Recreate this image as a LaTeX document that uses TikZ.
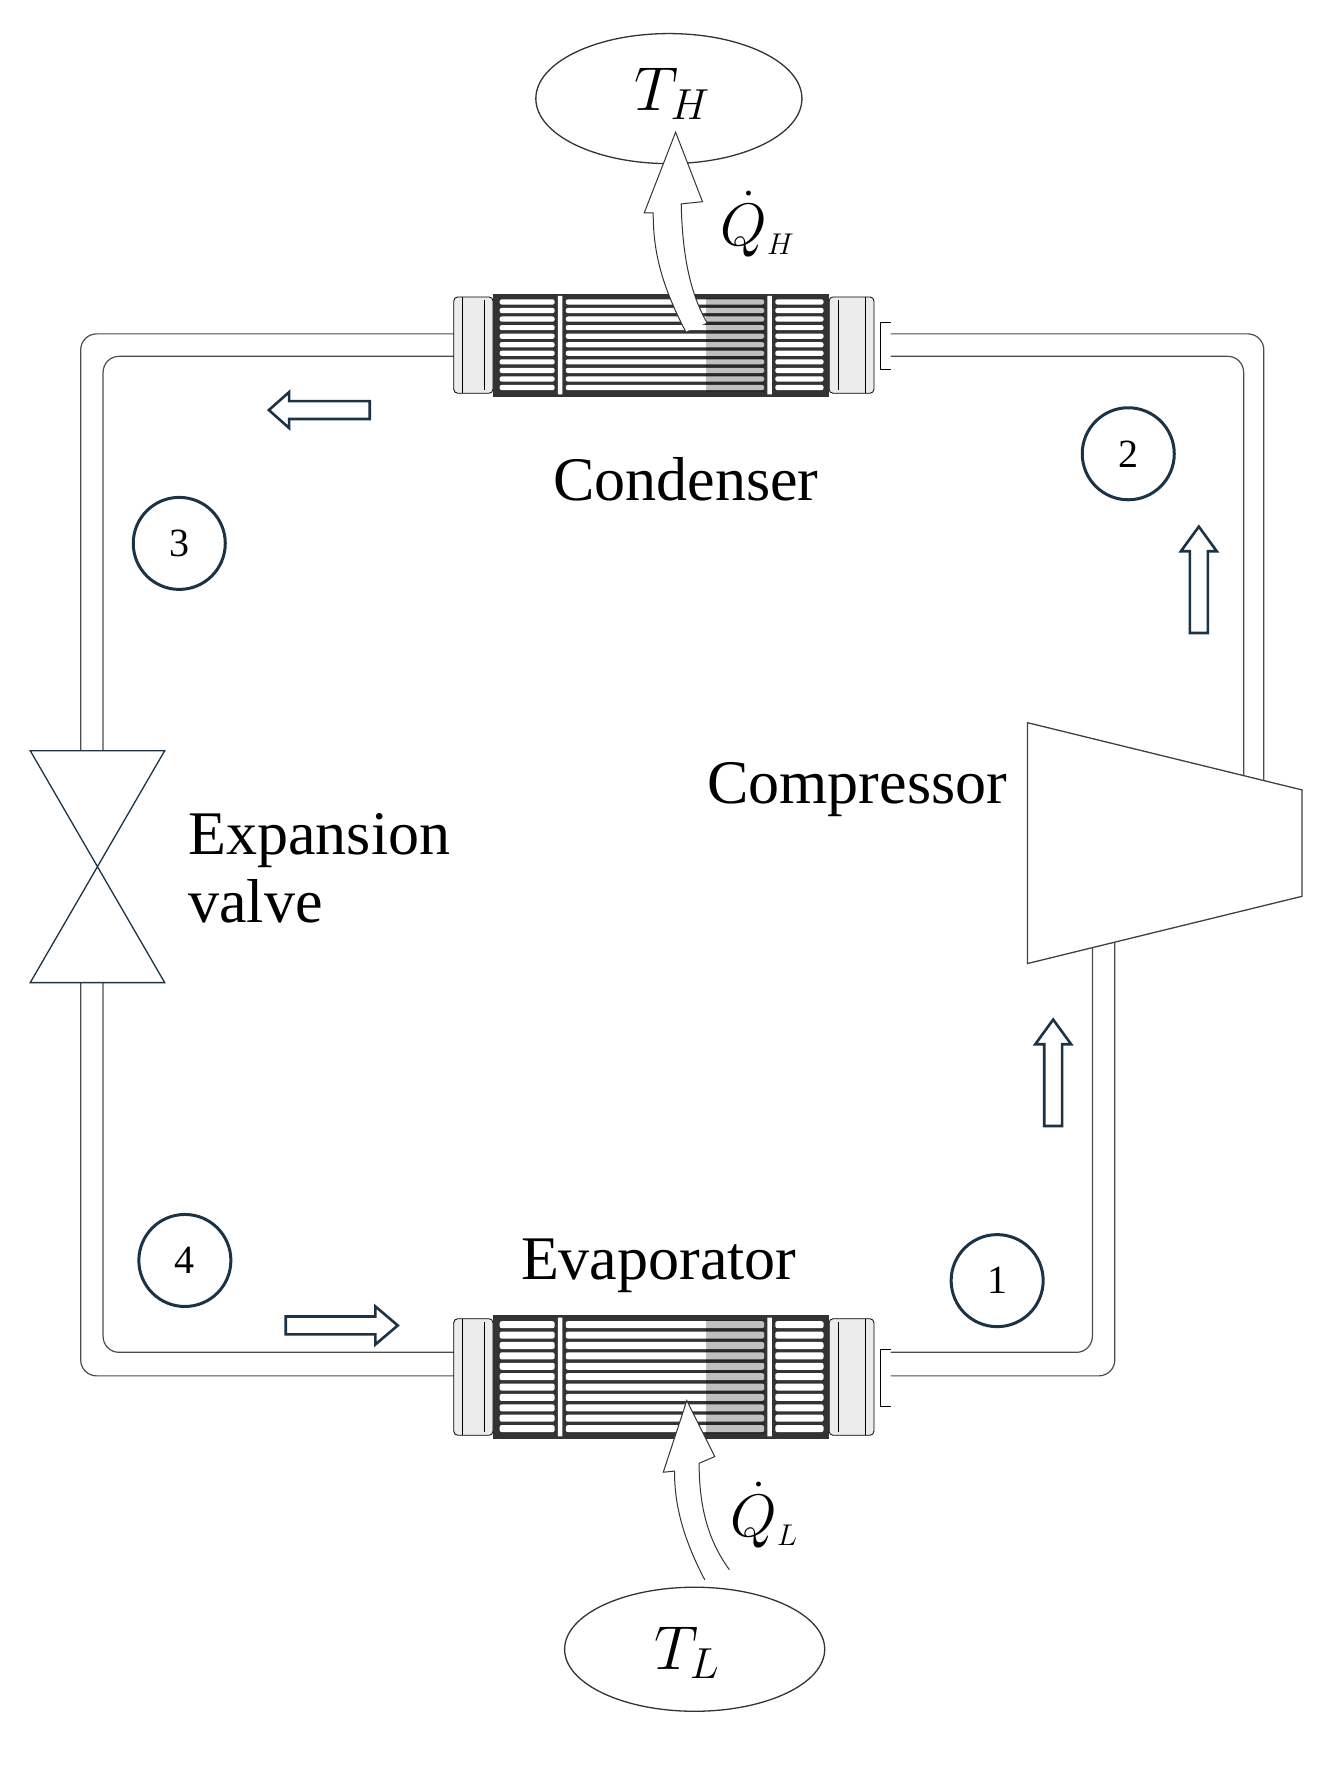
\RequirePackage{fix-cm}
\documentclass[tikz,border=0pt]{standalone}
\usepackage{fontspec}
\setmainfont{Liberation Serif}
\usetikzlibrary{shapes.geometric}
\definecolor{navy}{HTML}{1B3347}
\newcommand{\hxch}[3]{% #1 name, #2 top y, #3 height
  \begin{scope}[shift={(0,#2)}]
    \coordinate (#1-l) at (405,0);
    \coordinate (#1-r) at (795,0);
    \draw[line width=0.8pt,fill=gray!15,rounded corners=4] (405,3) rectangle (440,#3-3);
    \draw[line width=0.6pt] (413,3) -- (413,#3-3) (432,6) -- (432,#3-6);
    \draw[line width=0.8pt,fill=gray!15,rounded corners=4] (740,3) rectangle (780,#3-3);
    \draw[line width=0.6pt] (748,6) -- (748,#3-6) (772,3) -- (772,#3-3);
    \draw[line width=0.8pt] (795,0.28*#3) -- (786,0.28*#3) -- (786,0.74*#3) -- (795,0.74*#3);
    \fill[black!80] (440,0) rectangle (740,#3);
    \foreach \i in {0,...,10}{
      \pgfmathsetmacro{\yt}{4+\i*(#3-8)/11+1.2}
      \pgfmathsetmacro{\yb}{4+(\i+1)*(#3-8)/11-1.8}
      \fill[white,rounded corners=2] (446,\yt) rectangle (495,\yb);
      \fill[white,rounded corners=2] (505,\yt) rectangle (682,\yb);
      \fill[white,rounded corners=2] (692,\yt) rectangle (735,\yb);
    }
    \fill[white] (498,2) rectangle (502,#3-2) (685,2) rectangle (689,#3-2);
    \fill[black,opacity=0.25] (630,4) rectangle (682,#3-4);
  \end{scope}}
\tikzset{
  lbl/.style={font=\fontsize{62}{68}\selectfont,inner sep=0pt},
  pipe/.style={line width=1.2pt,draw=black!70,rounded corners=16},
  num/.style={circle,draw=navy,line width=3pt,minimum size=92,font=\fontsize{40}{42}\selectfont,inner sep=0pt},
  barrow/.style={draw=navy,line width=2.6pt,fill=white,line join=miter},
  harrow/.style={draw=black!80,line width=1pt,fill=white},
  res/.style={ellipse,draw=black!80,line width=1.3pt,inner sep=0pt,font=\fontsize{62}{64}\selectfont}
}
\begin{document}
\begin{tikzpicture}[x=1.12pt,y=-1.12pt]
\useasboundingbox (0,0) rectangle (1188,1578);
\draw[pipe] (405,298) -- (72,298) -- (72,670);
\draw[pipe] (405,318) -- (92,318) -- (92,670);
\draw[pipe] (72,877) -- (72,1228) -- (405,1228);
\draw[pipe] (92,877) -- (92,1207) -- (405,1207);
\draw[pipe] (795,298) -- (1128,298) -- (1128,697);
\draw[pipe] (795,318) -- (1110,318) -- (1110,692);
\draw[pipe] (795,1228) -- (995,1228) -- (995,841);
\draw[pipe] (795,1207) -- (975,1207) -- (975,846);
\hxch{cond}{262}{92}
\hxch{evap}{1174}{110}
\draw[navy,line width=1.3pt] (27,670) -- (147,670) -- (27,877) -- (147,877) -- cycle;
\coordinate (valve) at (87,773);
\draw[black!75,line width=1.3pt,fill=white] (917,645) -- (1162,705) -- (1162,800) -- (917,860) -- cycle;
\coordinate (comp) at (1040,752);
\node[res,minimum width=266,minimum height=130] (TH) at (597,88) {};
\node[font=\fontsize{62}{64}\selectfont] (THt) at (600,84) {$T_H$};
\node[res,minimum width=260,minimum height=124] (TL) at (620,1472) {};
\node[font=\fontsize{62}{64}\selectfont] (TLt) at (613,1475) {$T_L$};
\draw[harrow] (612,296) .. controls (588,250) and (583,220) .. (583,190) -- (575,190) -- (603,118) -- (627,180) -- (608,182) .. controls (609,225) and (615,260) .. (631,288);
\draw[harrow] (629,1410) .. controls (608,1370) and (602,1340) .. (602,1313) -- (592,1314) -- (613,1250) -- (638,1300) -- (624,1306) .. controls (624,1345) and (632,1375) .. (651,1401);
\node[font=\fontsize{60}{62}\selectfont] (QH) at (676,200) {$\dot Q_{\scriptscriptstyle H}$};
\node[font=\fontsize{60}{62}\selectfont] (QL) at (682,1352) {$\dot Q_{\scriptscriptstyle L}$};
\node[lbl] (lcond) at (612,428) {Condenser};
\node[lbl] (levap) at (588,1130) {Evaporator};
\node[lbl] (lcomp) at (765,705) {Compressor};
\node[lbl,align=left,anchor=west] (lvalve) at (168,775) {Expansion\\valve};
\node[num] (s1) at (890,1143) {1};
\node[num] (s2) at (1007,405) {2};
\node[num] (s3) at (160,485) {3};
\node[num] (s4) at (165,1125) {4};
\draw[barrow] (330,358) -- (258,358) -- (258,350) -- (240,366) -- (258,382) -- (258,374) -- (330,374) -- cycle;
\draw[barrow] (1062,565) -- (1062,492) -- (1054,492) -- (1070,470) -- (1086,492) -- (1078,492) -- (1078,565) -- cycle;
\draw[barrow] (932,1005) -- (932,932) -- (924,932) -- (940,910) -- (956,932) -- (948,932) -- (948,1005) -- cycle;
\draw[barrow] (255,1175) -- (335,1175) -- (335,1166) -- (355,1183) -- (335,1200) -- (335,1191) -- (255,1191) -- cycle;
\end{tikzpicture}
\end{document}
